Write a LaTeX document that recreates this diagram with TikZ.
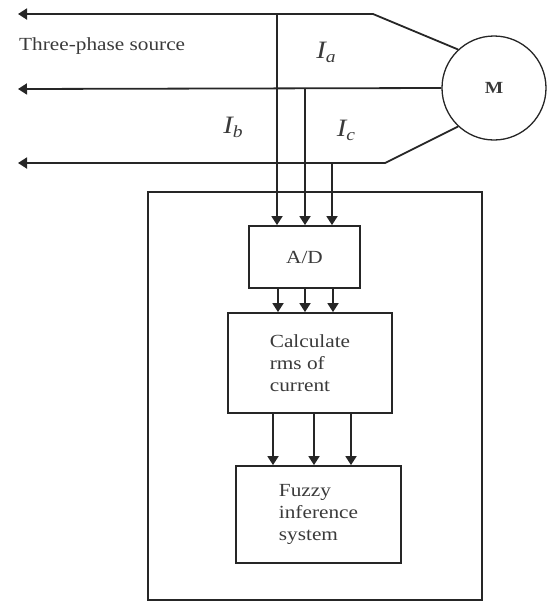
\documentclass[tikz,border=0pt]{standalone}
\usepackage{fontspec}
\setmainfont[FakeStretch=1.15]{Liberation Serif}
\usetikzlibrary{arrows.meta}
\definecolor{ink}{HTML}{262626}
\definecolor{txt}{HTML}{3A3A3A}
\tikzset{
  wire/.style={draw=ink, line width=1.8pt},
  arr/.style={wire, -{Triangle[width=11pt,length=9pt]}},
  blk/.style={draw=ink, line width=1.8pt, rectangle, inner sep=0pt, text=txt,
              font=\fontsize{18.5}{22}\selectfont, align=left},
  lbl/.style={text=txt, inner sep=0pt},
  cur/.style={text=txt, inner sep=0pt, font=\fontsize{25}{25}\selectfont\itshape}
}
\newcommand{\curr}[1]{I\raisebox{-0.35ex}{\fontsize{17}{17}\selectfont #1}}
\begin{document}
\begin{tikzpicture}[x=1pt,y=-1pt]
\useasboundingbox (0,0) rectangle (547,603);
% outer frame
\node[draw=ink, line width=1.8pt, minimum width=334pt, minimum height=408pt, inner sep=0pt] (outer) at (315,396) {};
% motor
\node[draw=ink, line width=1.3pt, circle, minimum size=104pt, inner sep=0pt, text=txt,
      font=\fontsize{17}{17}\selectfont\bfseries] (M) at (494,88) {M};
% blocks
\node[blk, minimum width=111pt, minimum height=62pt] (ad) at (304.5,257) {A/D};
\node[blk, minimum width=164pt, minimum height=100pt] (calc) at (310,363) {Calculate\\rms of\\current};
\node[blk, minimum width=165pt, minimum height=97pt] (fis) at (318.5,514.5) {Fuzzy\\inference\\system};
% labels
\node[lbl, anchor=west, font=\fontsize{18.5}{22}\selectfont] (src) at (19,46) {Three-phase source};
\node[cur] (ia) at (326,52) {\curr{a}};
\node[cur] (ib) at (233,127) {\curr{b}};
\node[cur] (ic) at (346,130) {\curr{c}};
% three-phase lines
\coordinate (la) at (18,14);
\coordinate (lb) at (18,89);
\coordinate (lc) at (18,163);
\coordinate (ka) at (373,14);
\coordinate (kc) at (385,163);
\draw[arr] (M.133) -- (ka) -- (la);
\draw[arr] (M.west) -- (lb);
\draw[arr] (M.227) -- (kc) -- (lc);
% taps
\coordinate (ta) at (277,14);
\coordinate (tb) at (305,89);
\coordinate (tc) at (332,163);
\draw[arr] (ta) -- (ad.north -| ta);
\draw[arr] (tb) -- (ad.north -| tb);
\draw[arr] (tc) -- (ad.north -| tc);
% A/D -> calc
\coordinate (x1) at (278,0);
\coordinate (x2) at (305,0);
\coordinate (x3) at (333,0);
\draw[arr] (ad.south -| x1) -- (calc.north -| x1);
\draw[arr] (ad.south -| x2) -- (calc.north -| x2);
\draw[arr] (ad.south -| x3) -- (calc.north -| x3);
% calc -> fis
\coordinate (y1) at (273,0);
\coordinate (y2) at (314,0);
\coordinate (y3) at (351,0);
\draw[arr] (calc.south -| y1) -- (fis.north -| y1);
\draw[arr] (calc.south -| y2) -- (fis.north -| y2);
\draw[arr] (calc.south -| y3) -- (fis.north -| y3);
\end{tikzpicture}
\end{document}
